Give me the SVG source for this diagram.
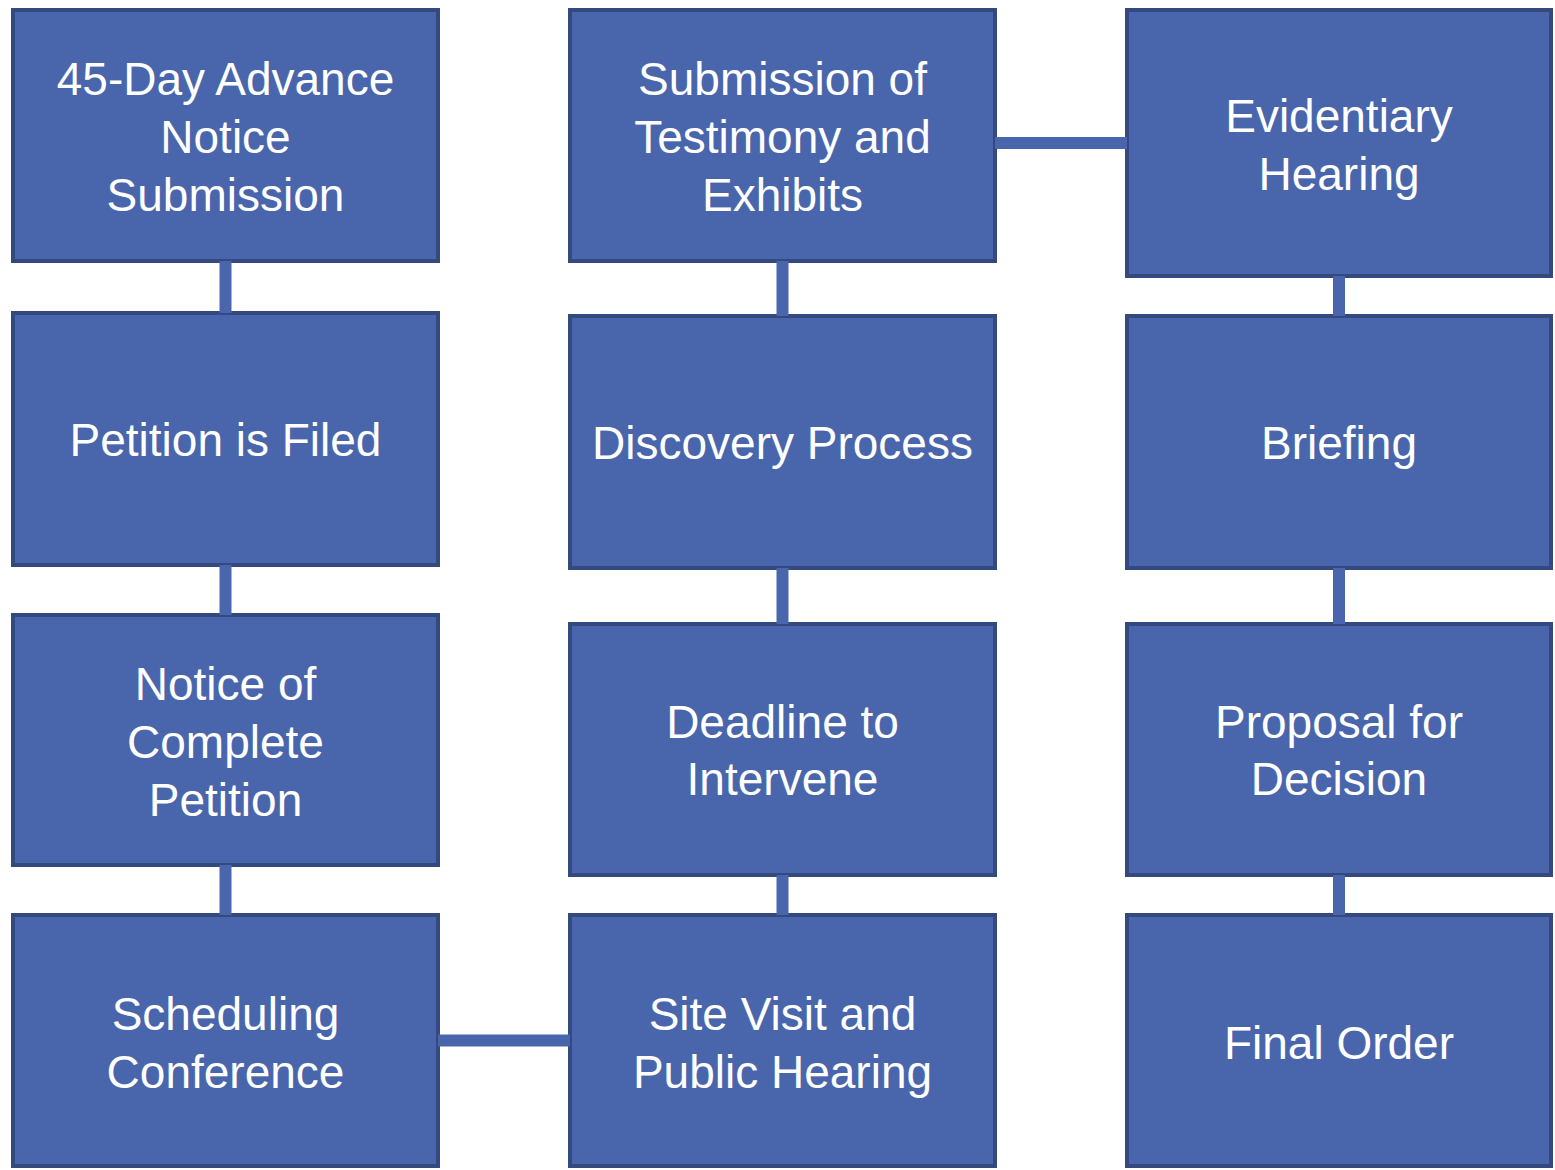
<svg xmlns="http://www.w3.org/2000/svg" width="1555" height="1170" viewBox="0 0 1555 1170">
<style>
.box{fill:#4966ac;stroke:#34497e;stroke-width:4}
.lbl{font-family:"Liberation Sans",Arial,sans-serif;font-size:46px;fill:#ffffff;text-anchor:middle}
.con{stroke:#4966ac;stroke-width:12;fill:none}
</style>
<rect width="1555" height="1170" fill="#ffffff"/>
<g id="n1"><rect class="box" x="13" y="10" width="425" height="251"/><text class="lbl" x="225.5"><tspan x="225.5" y="95">45-Day Advance</tspan><tspan x="225.5" y="153">Notice</tspan><tspan x="225.5" y="211">Submission</tspan></text></g>
<g id="n2"><rect class="box" x="13" y="313" width="425" height="252"/><text class="lbl" x="225.5" y="456">Petition is Filed</text></g>
<g id="n3"><rect class="box" x="13" y="615" width="425" height="250"/><text class="lbl"><tspan x="225.5" y="700">Notice of</tspan><tspan x="225.5" y="758">Complete</tspan><tspan x="225.5" y="816">Petition</tspan></text></g>
<g id="n4"><rect class="box" x="13" y="915" width="425" height="251"/><text class="lbl"><tspan x="225.5" y="1030">Scheduling</tspan><tspan x="225.5" y="1088">Conference</tspan></text></g>
<g id="n5"><rect class="box" x="570" y="10" width="425" height="251"/><text class="lbl"><tspan x="782.5" y="95">Submission of</tspan><tspan x="782.5" y="153">Testimony and</tspan><tspan x="782.5" y="211">Exhibits</tspan></text></g>
<g id="n6"><rect class="box" x="570" y="316" width="425" height="252"/><text class="lbl" x="782.5" y="459">Discovery Process</text></g>
<g id="n7"><rect class="box" x="570" y="624" width="425" height="251"/><text class="lbl"><tspan x="782.5" y="738">Deadline to</tspan><tspan x="782.5" y="795">Intervene</tspan></text></g>
<g id="n8"><rect class="box" x="570" y="915" width="425" height="251"/><text class="lbl"><tspan x="782.5" y="1030">Site Visit and</tspan><tspan x="782.5" y="1088">Public Hearing</tspan></text></g>
<g id="n9"><rect class="box" x="1127" y="10" width="424" height="266"/><text class="lbl"><tspan x="1339" y="132">Evidentiary</tspan><tspan x="1339" y="190">Hearing</tspan></text></g>
<g id="n10"><rect class="box" x="1127" y="316" width="424" height="252"/><text class="lbl" x="1339" y="459">Briefing</text></g>
<g id="n11"><rect class="box" x="1127" y="624" width="424" height="251"/><text class="lbl"><tspan x="1339" y="738">Proposal for</tspan><tspan x="1339" y="795">Decision</tspan></text></g>
<g id="n12"><rect class="box" x="1127" y="915" width="424" height="251"/><text class="lbl" x="1339" y="1059">Final Order</text></g>
<g id="connectors">
<line class="con" x1="225.5" y1="261" x2="225.5" y2="313"/>
<line class="con" x1="225.5" y1="565" x2="225.5" y2="615"/>
<line class="con" x1="225.5" y1="865" x2="225.5" y2="915"/>
<line class="con" x1="438" y1="1040.5" x2="570" y2="1040.5"/>
<line class="con" x1="782.5" y1="915" x2="782.5" y2="875"/>
<line class="con" x1="782.5" y1="624" x2="782.5" y2="568"/>
<line class="con" x1="782.5" y1="316" x2="782.5" y2="261"/>
<line class="con" x1="995" y1="143" x2="1127" y2="143"/>
<line class="con" x1="1339" y1="276" x2="1339" y2="316"/>
<line class="con" x1="1339" y1="568" x2="1339" y2="624"/>
<line class="con" x1="1339" y1="875" x2="1339" y2="915"/>
</g>
</svg>
